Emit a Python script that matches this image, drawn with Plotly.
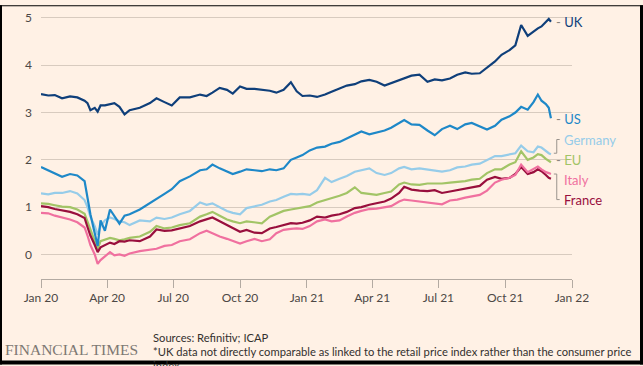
import plotly.graph_objects as go

dates = [
    "2020-01-01", "2020-01-11", "2020-01-20", "2020-01-30", "2020-02-10", "2020-02-20",
    "2020-03-01", "2020-03-05", "2020-03-09", "2020-03-15", "2020-03-19", "2020-03-23",
    "2020-03-29", "2020-04-05", "2020-04-11", "2020-04-18", "2020-04-25", "2020-05-02",
    "2020-05-16", "2020-05-30", "2020-06-08", "2020-06-19", "2020-06-29", "2020-07-10",
    "2020-07-24", "2020-08-07", "2020-08-16", "2020-08-24", "2020-09-03", "2020-09-13",
    "2020-09-21", "2020-10-01", "2020-10-10", "2020-10-21", "2020-10-31", "2020-11-11",
    "2020-11-20", "2020-11-30", "2020-12-10", "2020-12-18", "2020-12-26", "2021-01-05",
    "2021-01-15", "2021-01-26", "2021-02-04", "2021-02-15", "2021-02-25", "2021-03-08",
    "2021-03-17", "2021-03-28", "2021-04-07", "2021-04-18", "2021-04-27", "2021-05-08",
    "2021-05-15", "2021-05-25", "2021-06-05", "2021-06-16", "2021-06-26", "2021-07-06",
    "2021-07-17", "2021-07-27", "2021-08-07", "2021-08-16", "2021-08-27", "2021-09-06",
    "2021-09-17", "2021-09-26", "2021-10-07", "2021-10-15", "2021-10-23", "2021-11-01",
    "2021-11-09", "2021-11-15", "2021-11-20", "2021-11-26", "2021-11-30", "2021-12-03",
]

uk = [3.39, 3.36, 3.37, 3.30, 3.34, 3.32, 3.25, 3.20, 3.05, 3.10, 3.02, 3.15,
      3.15, 3.18, 3.20, 3.12, 2.96, 3.05, 3.10, 3.20, 3.30, 3.22, 3.15, 3.32,
      3.32, 3.38, 3.35, 3.42, 3.52, 3.48, 3.40, 3.55, 3.50, 3.50, 3.48, 3.46,
      3.42, 3.48, 3.64, 3.45, 3.35, 3.36, 3.33, 3.38, 3.44, 3.50, 3.57, 3.60,
      3.66, 3.69, 3.65, 3.57, 3.62, 3.68, 3.72, 3.78, 3.80, 3.65, 3.70, 3.68,
      3.72, 3.80, 3.85, 3.82, 3.83, 3.95, 4.08, 4.22, 4.32, 4.42, 4.85, 4.62,
      4.72, 4.78, 4.82, 4.92, 4.98, 4.92]

us = [1.85, 1.78, 1.70, 1.64, 1.70, 1.67, 1.55, 1.20, 0.85, 0.45, 0.18, 0.72,
      0.50, 0.95, 0.82, 0.65, 0.82, 0.85, 0.95, 1.08, 1.18, 1.28, 1.38, 1.55,
      1.65, 1.78, 1.80, 1.90, 1.82, 1.75, 1.70, 1.75, 1.80, 1.78, 1.76, 1.80,
      1.78, 1.82, 2.00, 2.05, 2.10, 2.20, 2.26, 2.28, 2.34, 2.38, 2.45, 2.52,
      2.60, 2.54, 2.58, 2.62, 2.68, 2.78, 2.84, 2.75, 2.74, 2.62, 2.52, 2.65,
      2.72, 2.65, 2.75, 2.78, 2.70, 2.64, 2.72, 2.85, 2.92, 3.00, 3.12, 3.06,
      3.22, 3.38, 3.25, 3.18, 3.10, 2.88]

germany = [1.29, 1.27, 1.30, 1.30, 1.34, 1.29, 1.15, 1.00, 0.80, 0.60, 0.42, 0.60,
           0.72, 0.78, 0.75, 0.70, 0.68, 0.62, 0.72, 0.70, 0.78, 0.75, 0.78, 0.85,
           0.92, 1.10, 1.05, 1.08, 1.00, 0.92, 0.88, 0.85, 0.98, 1.02, 1.05, 1.12,
           1.15, 1.22, 1.28, 1.27, 1.28, 1.26, 1.36, 1.62, 1.53, 1.60, 1.66, 1.75,
           1.78, 1.82, 1.72, 1.68, 1.72, 1.82, 1.85, 1.80, 1.82, 1.80, 1.78, 1.75,
           1.78, 1.84, 1.86, 1.90, 1.92, 2.00, 2.08, 2.08, 2.12, 2.14, 2.30, 2.18,
           2.16, 2.28, 2.26, 2.18, 2.14, 2.12]

eu = [1.08, 1.07, 1.04, 1.01, 1.00, 0.95, 0.86, 0.70, 0.50, 0.30, 0.12, 0.28,
      0.32, 0.35, 0.33, 0.30, 0.32, 0.35, 0.38, 0.48, 0.60, 0.55, 0.57, 0.62,
      0.66, 0.80, 0.85, 0.90, 0.82, 0.74, 0.70, 0.66, 0.70, 0.68, 0.66, 0.80,
      0.85, 0.92, 0.95, 0.97, 0.98, 1.02, 1.10, 1.15, 1.18, 1.24, 1.30, 1.42,
      1.30, 1.28, 1.26, 1.30, 1.33, 1.48, 1.52, 1.48, 1.47, 1.50, 1.50, 1.50,
      1.52, 1.53, 1.55, 1.58, 1.60, 1.72, 1.80, 1.80, 1.90, 1.95, 2.18, 2.00,
      2.05, 2.12, 2.10, 2.02, 1.98, 1.95]

france = [1.02, 1.00, 0.96, 0.93, 0.90, 0.85, 0.77, 0.58, 0.40, 0.20, 0.05, 0.15,
          0.20, 0.25, 0.22, 0.28, 0.27, 0.30, 0.28, 0.38, 0.53, 0.50, 0.51, 0.55,
          0.60, 0.70, 0.75, 0.78, 0.70, 0.62, 0.56, 0.48, 0.52, 0.46, 0.45, 0.55,
          0.58, 0.62, 0.66, 0.65, 0.67, 0.72, 0.80, 0.78, 0.82, 0.85, 0.90, 0.98,
          1.00, 1.05, 1.08, 1.12, 1.18, 1.30, 1.43, 1.37, 1.35, 1.34, 1.36, 1.30,
          1.33, 1.36, 1.40, 1.42, 1.45, 1.58, 1.64, 1.60, 1.62, 1.70, 1.85, 1.70,
          1.74, 1.80, 1.76, 1.68, 1.62, 1.60]

italy = [0.88, 0.87, 0.82, 0.78, 0.74, 0.68, 0.57, 0.40, 0.20, 0.00, -0.20, -0.12,
         -0.05, 0.05, -0.02, 0.00, -0.03, 0.02, 0.07, 0.10, 0.12, 0.18, 0.20, 0.28,
         0.32, 0.45, 0.50, 0.45, 0.38, 0.33, 0.28, 0.23, 0.28, 0.33, 0.28, 0.32,
         0.45, 0.52, 0.54, 0.55, 0.54, 0.60, 0.70, 0.74, 0.70, 0.72, 0.80, 0.88,
         0.92, 0.96, 0.97, 1.00, 1.02, 1.12, 1.16, 1.14, 1.12, 1.10, 1.08, 1.06,
         1.14, 1.16, 1.20, 1.22, 1.26, 1.35, 1.52, 1.58, 1.62, 1.68, 1.90, 1.74,
         1.80, 1.86, 1.80, 1.74, 1.72, 1.70]

tick_dates = ["2020-01-01", "2020-04-01", "2020-07-01", "2020-10-01", "2021-01-01",
              "2021-04-01", "2021-07-01", "2021-10-01", "2022-01-01"]
tick_labels = ["Jan 20", "Apr 20", "Jul 20", "Oct 20", "Jan 21", "Apr 21", "Jul 21",
               "Oct 21", "Jan 22"]
y_ticks = [0, 1, 2, 3, 4, 5]

series = [
    ("Germany", germany, "#96cce9"),
    ("EU", eu, "#a2c466"),
    ("France", france, "#990f3d"),
    ("Italy", italy, "#f0709f"),
    ("US", us, "#1e88c8"),
    ("UK", uk, "#0f3f7a"),
]
colors = {n: c for n, _, c in series}

W, H = 643, 366
L, R, T, B = 41, 71, 10, 87
PW, PH = W - L - R, H - T - B


def px(x):
    return (x - L) / PW


def py(y):
    return (H - B - y) / PH


fig = go.Figure()
for name, vals, col in series:
    fig.add_trace(go.Scatter(x=dates, y=vals, mode="lines", name=name,
                             line=dict(color=col, width=2.2), hoverinfo="skip"))

font_family = "Lato, 'Open Sans', sans-serif"
label_font = 13

label_x = "2021-12-18"
dash_x = "2021-12-07"
annotations = []
annotations.append(dict(x=dash_x, y=uk[-1], text="<span style='color:#8a8580'>-</span> UK",
                        showarrow=False, xanchor="left", yanchor="middle",
                        font=dict(color=colors["UK"], size=label_font, family=font_family)))
annotations.append(dict(x=dash_x, y=us[-1] - 0.02, text="<span style='color:#8a8580'>-</span> US",
                        showarrow=False, xanchor="left", yanchor="middle",
                        font=dict(color=colors["US"], size=label_font, family=font_family)))
label_pos = {"Germany": 2.43, "EU": 2.0, "Italy": 1.58, "France": 1.16}
annotations.append(dict(x=dash_x, y=label_pos["EU"], text="<span style='color:#8a8580'>-</span> EU",
                        showarrow=False, xanchor="left", yanchor="middle",
                        font=dict(color=colors["EU"], size=label_font, family=font_family)))
for nm in ["Germany", "Italy", "France"]:
    annotations.append(dict(x=label_x, y=label_pos[nm], text=nm, showarrow=False,
                            xanchor="left", yanchor="middle",
                            font=dict(color=colors[nm], size=label_font, family=font_family)))

lead_col = "#9a938d"
shapes = []
bx = "2021-12-11"
bx2 = "2021-12-15"
bx0 = "2021-12-07"
shapes.append(dict(type="line", x0=bx, x1=bx, y0=germany[-1] + 0.02, y1=label_pos["Germany"],
                   xref="x", yref="y", line=dict(color=lead_col, width=1)))
shapes.append(dict(type="line", x0=bx, x1=bx2, y0=label_pos["Germany"], y1=label_pos["Germany"],
                   xref="x", yref="y", line=dict(color=lead_col, width=1)))
shapes.append(dict(type="line", x0=bx0, x1=bx, y0=germany[-1] + 0.02, y1=germany[-1] + 0.02,
                   xref="x", yref="y", line=dict(color=lead_col, width=1)))
shapes.append(dict(type="line", x0=bx, x1=bx, y0=italy[-1], y1=label_pos["France"],
                   xref="x", yref="y", line=dict(color=lead_col, width=1)))
shapes.append(dict(type="line", x0=bx0, x1=bx, y0=italy[-1], y1=italy[-1],
                   xref="x", yref="y", line=dict(color=lead_col, width=1)))
shapes.append(dict(type="line", x0=bx, x1=bx2, y0=label_pos["France"], y1=label_pos["France"],
                   xref="x", yref="y", line=dict(color=lead_col, width=1)))

annotations.append(dict(xref="paper", yref="paper", x=px(151), y=py(339), text="Sources: Refinitiv; ICAP",
                        showarrow=False, xanchor="left", yanchor="middle",
                        font=dict(color="#33302e", size=11.2, family=font_family)))
annotations.append(dict(xref="paper", yref="paper", x=px(151), y=py(353),
                        text="*UK data not directly comparable as linked to the retail price index rather than the consumer price",
                        showarrow=False, xanchor="left", yanchor="middle",
                        font=dict(color="#33302e", size=11.2, family=font_family)))
annotations.append(dict(xref="paper", yref="paper", x=px(151), y=py(367), text="index",
                        showarrow=False, xanchor="left", yanchor="middle",
                        font=dict(color="#33302e", size=11.2, family=font_family)))
annotations.append(dict(xref="paper", yref="paper", x=px(3), y=py(351), text="FINANCIAL TIMES",
                        showarrow=False, xanchor="left", yanchor="middle",
                        font=dict(color="#7d7873", size=15.5, family="'Liberation Serif', 'DejaVu Serif', serif")))

for (x0, x1, y0, y1) in [(0, 2, 0, H), (640, W, 0, H), (0, W, 0, 1), (0, W, 362, H)]:
    shapes.append(dict(type="rect", xref="paper", yref="paper", x0=px(x0), x1=px(x1),
                       y0=py(y1), y1=py(y0), fillcolor="#000000", line=dict(width=0),
                       layer="above"))

fig.update_layout(
    width=W, height=H,
    margin=dict(l=L, r=R, t=T, b=B),
    paper_bgcolor="#FFF1E5", plot_bgcolor="#FFF1E5",
    showlegend=False,
    font=dict(family=font_family, color="#66605c", size=12),
    annotations=annotations,
    shapes=shapes,
    xaxis=dict(type="date", range=["2020-01-01", "2022-01-01"],
               tickvals=tick_dates, ticktext=tick_labels,
               showgrid=False, zeroline=False,
               showline=True, linecolor="#b3aaa2", linewidth=1,
               ticks="outside", ticklen=8, tickcolor="#b3aaa2", tickwidth=1,
               tickfont=dict(size=12, color="#4d4845"), fixedrange=True),
    yaxis=dict(range=[-0.519, 5.062], tickvals=y_ticks,
               showgrid=True, gridcolor="#d8cbbf", gridwidth=1,
               zeroline=False, showline=False, ticks="",
               ticklabelstandoff=8,
               tickfont=dict(size=12, color="#4d4845"), fixedrange=True),
)

fig.write_html("out.html", config={"displayModeBar": False},
               post_script="document.body.style.margin='0';document.body.style.overflow='hidden';")
